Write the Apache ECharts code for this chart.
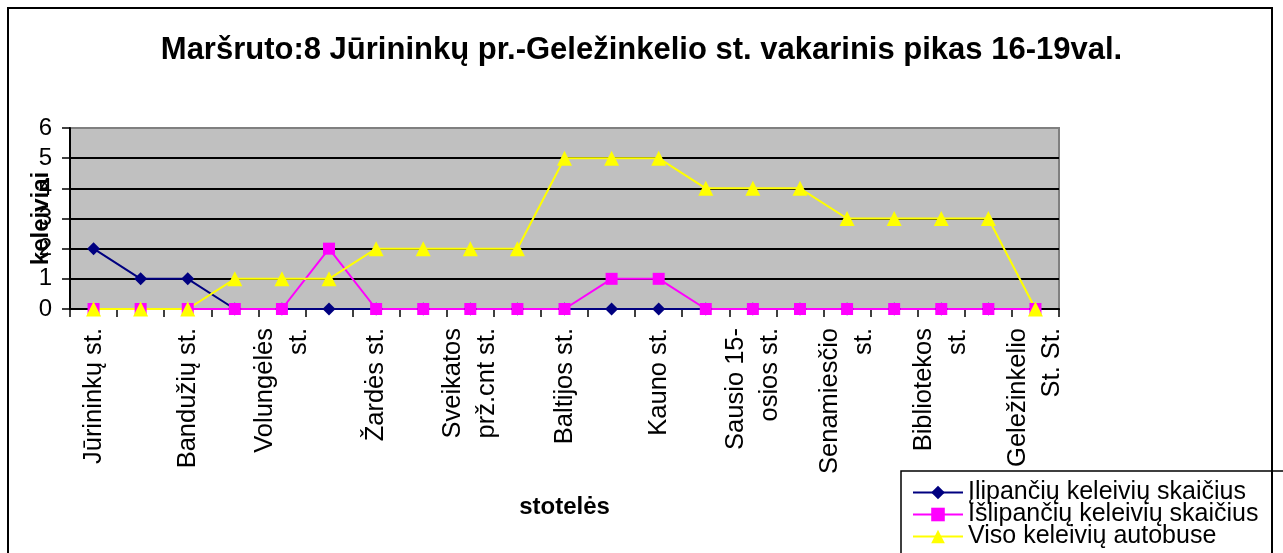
<!DOCTYPE html>
<html>
<head>
<meta charset="utf-8">
<script src="https://cdn.jsdelivr.net/npm/echarts@6/dist/echarts.min.js"></script>
<style>
  html, body { margin: 0; padding: 0; background: #fff; }
  #chart { width: 1283px; height: 553px; }
</style>
</head>
<body>
<div id="chart"></div>
<script>
// stops along the route; only every other stop name is printed on the axis
const stops = [
  'Jūrininkų st.', '', 'Bandužių st.', ' ', 'Volungėlės\nst.', '  ',
  'Žardės st.', '   ', 'Sveikatos\nprž.cnt st.', '    ', 'Baltijos st.', '     ',
  'Kauno st.', '      ', 'Sausio 15-\nosios st.', '       ', 'Senamiesčio\nst.', '        ',
  'Bibliotekos\nst.', '         ', 'Geležinkelio\nSt. St.'
]
const boarding = [2, 1, 1, 0, 0, 0, 0, 0, 0, 0, 0, 0, 0, 0, 0, 0, 0, 0, 0, 0, 0]
const alighting = [0, 0, 0, 0, 0, 2, 0, 0, 0, 0, 0, 1, 1, 0, 0, 0, 0, 0, 0, 0, 0]
const onBus = [0, 0, 0, 1, 1, 1, 2, 2, 2, 2, 5, 5, 5, 4, 4, 4, 3, 3, 3, 3, 0]
const yTicks = [0, 6, 1]

const fontFamily = 'Liberation Sans, Arial, sans-serif'
const chart = echarts.init(document.getElementById('chart'))

chart.setOption({
  animation: false,
  backgroundColor: '#fff',
  textStyle: { fontFamily },
  title: {
    text: 'Maršruto:8 Jūrininkų pr.-Geležinkelio st. vakarinis pikas 16-19val.',
    left: 'center',
    top: 30,
    textStyle: { fontSize: 31, fontWeight: 'bold', color: '#000', fontFamily },
  },
  graphic: [{
    type: 'rect',
    shape: { x: 8, y: 8, width: 1264, height: 570 },
    style: { fill: null, stroke: '#000', lineWidth: 2 },
    silent: true,
    z: 100,
  }],
  legend: {
    orient: 'vertical',
    left: 901,
    top: 471,
    height: 120,
    padding: [9, 30, 30, 11],
    itemGap: -3,
    itemWidth: 50,
    itemHeight: 17,
    backgroundColor: '#fff',
    borderColor: '#000',
    borderWidth: 1.5,
    textStyle: { fontSize: 25, color: '#000', lineHeight: 21, fontFamily },
    data: ['Įlipančių keleivių skaičius', 'Išlipančių keleivių skaičius', 'Viso keleivių autobuse'],
  },
  grid: {
    left: 70, right: 224, top: 128, bottom: 244,
    show: true,
    backgroundColor: '#c0c0c0',
    borderColor: '#808080',
    borderWidth: 2,
  },
  xAxis: {
    type: 'category',
    data: stops,
    boundaryGap: true,
    name: 'stotelės',
    nameLocation: 'middle',
    nameGap: 186,
    nameMoveOverlap: false,
    nameTextStyle: { fontSize: 24, fontWeight: 'bold', color: '#000', fontFamily },
    axisLine: { lineStyle: { color: '#000', width: 2 } },
    axisTick: { show: true, interval: 0, length: 8, lineStyle: { color: '#000', width: 1.5 } },
    axisLabel: {
      interval: 0, rotate: 90, fontSize: 25.5, lineHeight: 34, margin: 19, color: '#000', fontFamily,
    },
  },
  yAxis: {
    type: 'value',
    min: yTicks[0],
    max: yTicks[1],
    interval: yTicks[2],
    name: 'keleiviai',
    nameLocation: 'middle',
    nameGap: 17,
    nameMoveOverlap: false,
    nameTextStyle: { fontSize: 24, fontWeight: 'bold', color: '#000', fontFamily },
    axisLine: { show: true, lineStyle: { color: '#000', width: 2 } },
    axisTick: { show: true, length: 8, lineStyle: { color: '#000', width: 1.5 } },
    axisLabel: { fontSize: 24, margin: 18, color: '#000', fontFamily },
    splitLine: { show: true, showMinLine: false, showMaxLine: false, lineStyle: { color: '#000', width: 2 } },
  },
  series: [
    {
      name: 'Įlipančių keleivių skaičius',
      type: 'line',
      data: boarding,
      symbol: 'diamond',
      symbolSize: 13,
      itemStyle: { color: '#000080' },
      lineStyle: { color: '#000080', width: 2 },
    },
    {
      name: 'Išlipančių keleivių skaičius',
      type: 'line',
      data: alighting,
      symbol: 'rect',
      symbolSize: 12,
      itemStyle: { color: '#ff00ff' },
      lineStyle: { color: '#ff00ff', width: 2 },
    },
    {
      name: 'Viso keleivių autobuse',
      type: 'line',
      data: onBus,
      symbol: 'triangle',
      symbolSize: 15,
      itemStyle: { color: '#ffff00' },
      lineStyle: { color: '#ffff00', width: 2 },
    },
  ],
})
</script>
</body>
</html>
